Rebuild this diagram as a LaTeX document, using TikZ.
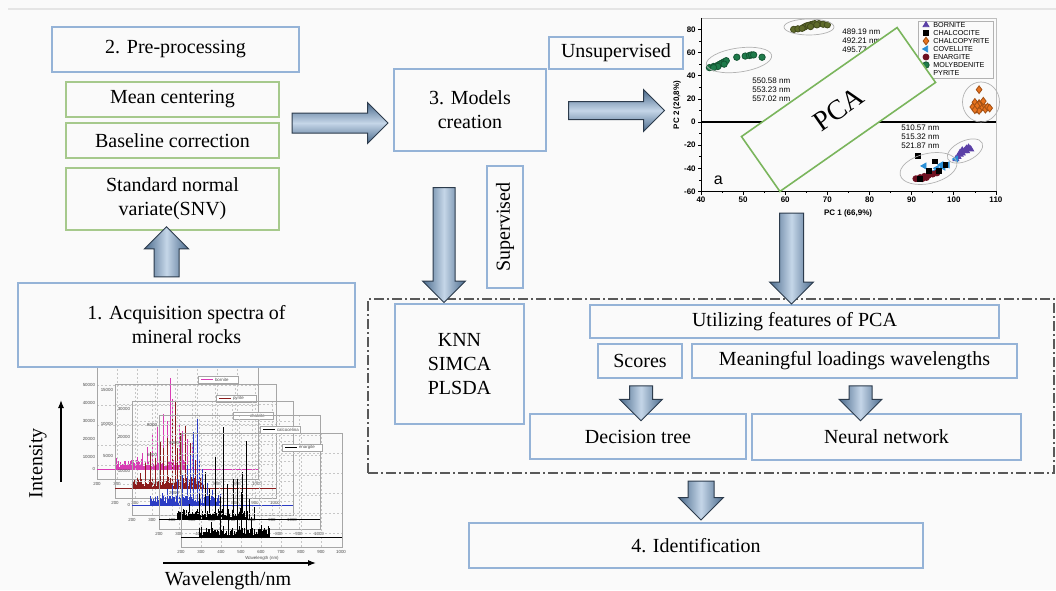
\documentclass[tikz,border=0pt]{standalone}
\usepackage{fontspec}
\setmainfont{Liberation Serif}
\newfontfamily\plotfont{Liberation Sans}
\usetikzlibrary{shapes.geometric,shapes.arrows,arrows.meta,plotmarks,positioning}

\definecolor{bgcol}{HTML}{FAFAFA}
\definecolor{boxblue}{HTML}{95B3D7}
\definecolor{boxgreen}{HTML}{A6C98C}
\definecolor{pcagreen}{HTML}{7AB55C}
\definecolor{arrdark}{HTML}{4A6A8C}
\definecolor{arrlight}{HTML}{C5D6E8}
\definecolor{arrline}{HTML}{2C3B4C}
\definecolor{molyc}{HTML}{1E7B4A}
\definecolor{pyrc}{HTML}{5E6A2A}
\definecolor{cpyc}{HTML}{E8731E}
\definecolor{bornc}{HTML}{5A3FA6}
\definecolor{covc}{HTML}{2A8FD6}
\definecolor{enac}{HTML}{6E1020}
\definecolor{specmag}{HTML}{D93BB4}
\definecolor{specred}{HTML}{8B1C1C}
\definecolor{specblue}{HTML}{2B3CC4}

\tikzset{
  bluebox/.style={draw=boxblue, line width=0.6pt, fill=bgcol, inner sep=0pt, align=center},
  greenbox/.style={draw=boxgreen, line width=0.6pt, fill=bgcol, inner sep=0pt, align=center},
  pcabox/.style={draw=pcagreen, line width=0.8pt, fill=bgcol, inner sep=0pt},
  dashframe/.style={draw=gray!70!black, line width=0.6pt, dash pattern=on 5pt off 1.5pt on 1pt off 1.5pt},
  fatarrow/.style={single arrow, draw=arrline, line width=0.5pt, single arrow head indent=0pt},
  harrow/.style={fatarrow, top color=arrdark, bottom color=arrdark, middle color=arrlight},
  varrow/.style={fatarrow, shape border rotate=270, left color=arrdark, right color=arrdark, middle color=arrlight},
  uparrow/.style={fatarrow, shape border rotate=90, left color=arrdark, right color=arrdark, middle color=arrlight},
  tick/.style={font=\plotfont\fontsize{2.2}{2.4}\selectfont, inner sep=0.3pt, text=gray!60!black},
  specgrid/.style={gray!45, line width=0.2pt, dash pattern=on 1pt off 1pt},
  specbox/.style={gray!70, line width=0.4pt},
  plotlbl/.style={font=\plotfont\fontsize{3.6}{4}\selectfont, inner sep=0.5pt},
  wltxt/.style={font=\plotfont\fontsize{4}{4.6}\selectfont, inner sep=0pt, align=left},
  clusterell/.style={ellipse, draw=gray!60, line width=0.35pt, inner sep=0pt},
  molymk/.style={mark=*, mark size=1.6pt, mark options={draw=molyc!70!black, fill=molyc}},
  pyrmk/.style={mark=*, mark size=1.6pt, mark options={draw=pyrc!70!black, fill=pyrc}},
  cpymk/.style={mark=diamond*, mark size=1.9pt, mark options={draw=cpyc!70!black, fill=cpyc}},
  bornmk/.style={mark=triangle*, mark size=1.7pt, mark options={draw=bornc, fill=bornc}},
  chalcmk/.style={mark=square*, mark size=1.2pt, mark options={draw=black, fill=black}},
  covmk/.style={mark=triangle*, mark size=1.7pt, mark options={draw=covc, fill=covc, rotate=90}},
  enamk/.style={mark=*, mark size=1.5pt, mark options={draw=enac, fill=enac}}
}

% one spectrum panel: corner x, corner y, colour, legend, peaks, axis numbers
\newcommand\specframe[6]{%
  \begin{scope}[shift={(#1,#2)}]
    \foreach \gx in {20,40,...,140} \draw[specgrid] (\gx,0) -- (\gx,114);
    \foreach \gy in {20,40,...,100} \draw[specgrid] (0,\gy) -- (161,\gy);
    \draw[specbox] (0,0) rectangle (161,114);
    \foreach \gx [count=\k from 2] in {0,20,...,160} \node[tick] at (\gx,119) {\k00};
    \foreach \ly/\lt in {#6} \node[tick, anchor=east] at (-1,\ly) {\lt};
    \draw[#3, line width=0.3pt] (0,104) -- (161,104);
    \foreach \i in {0,...,70} {
      \pgfmathsetmacro\h{2+9*rnd}
      \draw[#3, line width=0.35pt] (18+\i,104) -- ++(0,-\h);
    }
    \foreach \px/\ph in {#5} \draw[#3, line width=0.5pt] (\px,104) -- ++(0,-\ph);
    \draw[gray!70, fill=white, line width=0.2pt] (101,11) rectangle (141,18);
    \draw[#3, line width=0.4pt] (104,14.5) -- (116,14.5);
    \node[tick, anchor=west] at (117,14.5) {#4};
  \end{scope}}

\begin{document}
\begin{tikzpicture}[x=0.5pt,y=-0.5pt]
\useasboundingbox (0,0) rectangle (1056,590);
\fill[bgcol] (0,0) rectangle (1056,590);
\draw[gray!20, line width=0.8pt] (8,9) -- (1056,9);

% spectra of the minerals
\pgfmathsetseed{11}
\specframe{97}{365}{specmag}{bornite}{73/91,66/55,78/62,60/42,55/35,82/45,90/30,50/22,45/16,95/26,70/48,62/30,85/38,40/12,75/70}{2/60000,20/50000,38/40000,56/30000,74/20000,92/10000,104/0}
\specframe{115}{384}{specred}{pyrite}{60/87,52/50,48/40,40/30,35/36,65/55,70/62,75/45,30/25,57/70,45/46,62/40,25/15,80/28}{6/15000,40/10000,72/5000}
\specframe{132}{401}{specblue}{chalcite}{65/86,61/73,55/40,50/30,45/26,40/20,70/36,35/16,58/50,67/45,75/22,30/12,80/15}{8/30000,36/20000,70/10000,104/0}
\specframe{159}{415}{black}{calcocelina}{64/92,56/62,46/47,83/47,74/40,40/25,30/15,90/20,50/30,68/35,95/12}{10/8000,40/6000}
\specframe{181}{433}{black}{enargite}{65/96,56/58,39/40,47/25,30/15,60/45,70/20,80/12}{10/4000,60/2000}
\node[tick] (wlaxis) at (262,558) {Wavelength (nm)};

\coordinate (ilow) at (61,482);
\coordinate (ihigh) at (61,400);
\draw[-{Latex[length=4pt,width=3pt]}, line width=0.6pt] (ilow) -- (ihigh);
\node[rotate=90] (intens) at (38,463) {Intensity};
\coordinate (wleft) at (163,563);
\coordinate (wright) at (316,563);
\draw[-{Latex[length=4pt,width=3pt]}, line width=0.6pt] (wleft) -- (wright);
\node (wavel) at (228,581) {Wavelength/nm};

% score plot of PCA
\begin{scope}[shift={(532.4,122)}, x=2.107pt, y=0.5785pt, font=\plotfont\fontsize{4}{4.5}\selectfont\bfseries]
  \draw[gray!50, line width=0.3pt] (40,-60) rectangle (110,90);
  \draw[line width=0.45pt] (40,90) -- (40,-60) -- (110,-60);
  \draw[line width=0.6pt] (40,0) -- (110,0);
  \foreach \t in {40,50,...,110} \draw[line width=0.35pt] (\t,-60) -- (\t,-62.8) node[below, inner sep=1pt] {\t};
  \foreach \t in {45,55,...,105} \draw[line width=0.3pt] (\t,-60) -- (\t,-61.5);
  \foreach \t in {-60,-40,...,80} \draw[line width=0.35pt] (40,\t) -- (39.3,\t) node[left, inner sep=1pt] {\t};
  \foreach \t in {-50,-30,...,70} \draw[line width=0.3pt] (40,\t) -- (39.6,\t);
  \node (pc1) at (74.9,-78.7) {PC 1 (66,9\%)};
  \node[rotate=90] (pc2) at (34.3,14.7) {PC 2 (20,8\%)};
  \draw plot[only marks, molymk] coordinates {(42,47) (43,48) (44,49) (44.5,50) (45,51) (45.5,52) (46,53) (44,48) (48.5,56) (50.5,57) (51.5,57.5) (52,58) (52.5,58) (54.5,56) (43,47) (45.5,50)};
  \draw plot[only marks, pyrmk] coordinates {(62,80) (63,80.5) (64.5,82) (65,83) (66,84) (66.5,84.5) (67,85) (68,85) (69,84.5) (70,84) (65.5,83.5) (67.5,84) (64,81) (66,82.5)};
  \draw plot[only marks, cpymk] coordinates {(106,28) (105,17) (106,16) (107,14) (106.5,12) (105.5,11) (107.5,11) (108,13) (106,10) (104.5,13) (107,18) (106,15) (105.5,14) (108.5,12) (105,10.5)};
  \draw plot[only marks, bornmk] coordinates {(103.5,-22) (103,-23) (102.5,-25) (102,-27) (101.5,-28) (101,-30) (100.5,-32) (103,-25) (102,-24.5) (101.5,-26.5) (104,-23.5)};
  \draw plot[only marks, covmk] coordinates {(93,-38) (96,-40) (97,-37) (98.5,-37) (95,-44) (96,-43) (97.5,-39) (100.5,-32)};
  \draw plot[only marks, enamk] coordinates {(91,-49) (92,-48) (93,-47) (94,-46) (95,-45) (96,-44) (92.5,-49) (93.5,-48)};
  \draw plot[only marks, chalcmk] coordinates {(91.5,-29) (95.5,-34) (92,-49) (94,-42) (98,-37) (96.5,-42)};
  \node[font=\plotfont\fontsize{8}{8}\selectfont] (plota) at (44.1,-50) {a};
\end{scope}

\node[clusterell, minimum width=33pt, minimum height=12pt, rotate=8] (emoly) at (739,60) {};
\node[clusterell, minimum width=25pt, minimum height=8pt] (epyr) at (809,27) {};
\node[clusterell, minimum width=18.5pt, minimum height=20pt] (ecpy) at (981,102) {};
\node[clusterell, minimum width=19pt, minimum height=10pt, rotate=25] (ebor) at (965,151) {};
\node[clusterell, minimum width=29pt, minimum height=15pt, rotate=13] (emix) at (928.5,168.5) {};

\node[wltxt, anchor=west] (wla) at (842,41) {489.19 nm\\492.21 nm\\495.77 nm};
\node[wltxt, anchor=west] (wlb) at (752,89.5) {550.58 nm\\553.23 nm\\557.02 nm};
\node[wltxt, anchor=west] (wlc) at (901,137) {510.57 nm\\515.32 nm\\521.87 nm};

% legend
\node[draw=gray!60, line width=0.3pt, fill=bgcol, minimum width=37.5pt, minimum height=28.5pt, inner sep=0pt] (leg) at (955.5,49.5) {};
\draw plot[only marks, bornmk] coordinates {(926,25)};
\draw plot[only marks, chalcmk] coordinates {(926,33)};
\draw plot[only marks, cpymk] coordinates {(926,41)};
\draw plot[only marks, covmk] coordinates {(926,49)};
\draw plot[only marks, enamk] coordinates {(926,57)};
\draw plot[only marks, molymk] coordinates {(926,65)};
\foreach \yy/\nm in {25/BORNITE,33/CHALCOCITE,41/CHALCOPYRITE,49/COVELLITE,57/ENARGITE,65/MOLYBDENITE,73/PYRITE}
  \node[plotlbl, anchor=west] at (932,\yy) {\nm};

\node[pcabox, rotate=35, minimum width=95pt, minimum height=33.5pt] (pca) at (838.5,109.5) {\fontsize{14}{16}\selectfont PCA};

% boxes of the work flow
\node[bluebox, minimum width=123.5pt, minimum height=22.5pt] (pre) at (175.5,49.5) {2. Pre-processing};
\node[greenbox, minimum width=106.5pt, minimum height=17.5pt] (mean) at (172.5,99.5) {Mean centering};
\node[greenbox, minimum width=106.5pt, minimum height=17.5pt] (base) at (172.5,140.5) {Baseline correction};
\node[greenbox, minimum width=106.5pt, minimum height=31pt] (snv) at (172.5,199) {Standard normal\\variate(SNV)};
\node[bluebox, minimum width=168.5pt, minimum height=42pt] (acq) at (186.5,325) {1. Acquisition spectra of\\mineral rocks};
\node[bluebox, minimum width=76pt, minimum height=41pt] (models) at (470,110) {3. Models\\creation};
\node[bluebox, minimum width=67pt, minimum height=16pt] (unsup) at (616,53) {Unsupervised};
\node[bluebox, rotate=90, minimum width=61pt, minimum height=18pt] (sup) at (505,227) {Supervised};

\node[dashframe, minimum width=343pt, minimum height=87pt] (grp) at (711,386) {};
\node[bluebox, minimum width=64.5pt, minimum height=60pt] (knn) at (459.5,364) {KNN\\SIMCA\\PLSDA};
\node[bluebox, minimum width=204.5pt, minimum height=16.5pt] (util) at (794.5,321.5) {Utilizing features of PCA};
\node[bluebox, minimum width=42pt, minimum height=17pt] (scores) at (640,361) {Scores};
\node[bluebox, minimum width=162.5pt, minimum height=17pt] (mload) at (854.5,361) {Meaningful loadings wavelengths};
\node[bluebox, minimum width=108pt, minimum height=22.5pt] (dtree) at (638,436.5) {Decision tree};
\node[bluebox, minimum width=134.5pt, minimum height=23pt] (nnet) at (886.5,437) {Neural network};
\node[bluebox, minimum width=227pt, minimum height=22.5pt] (ident) at (696,545.5) {4. Identification};

% block arrows
\node[uparrow, inner sep=6pt, minimum height=25pt, single arrow head extend=4.75pt] (a12) at (166.5,258) {};
\node[harrow, inner sep=4.75pt, minimum height=48pt, single arrow head extend=5.25pt] (a23) at (335,123) {};
\node[harrow, inner sep=4.25pt, minimum height=48pt, single arrow head extend=6pt] (a3u) at (612,110.5) {};
\node[varrow, inner sep=5.25pt, minimum height=57.5pt, single arrow head extend=5.25pt] (a3s) at (444,239.5) {};
\node[varrow, inner sep=5.75pt, minimum height=45.5pt, single arrow head extend=5pt] (apca) at (791.5,252.5) {};
\node[varrow, inner sep=5.5pt, minimum height=17.5pt, single arrow head extend=5pt] (asc) at (641,397.5) {};
\node[varrow, inner sep=5.5pt, minimum height=17.5pt, single arrow head extend=5pt] (aml) at (860.5,397.5) {};
\node[varrow, inner sep=6.25pt, minimum height=17pt, single arrow head extend=4.75pt] (aid) at (701,494) {};
\end{tikzpicture}
\end{document}
